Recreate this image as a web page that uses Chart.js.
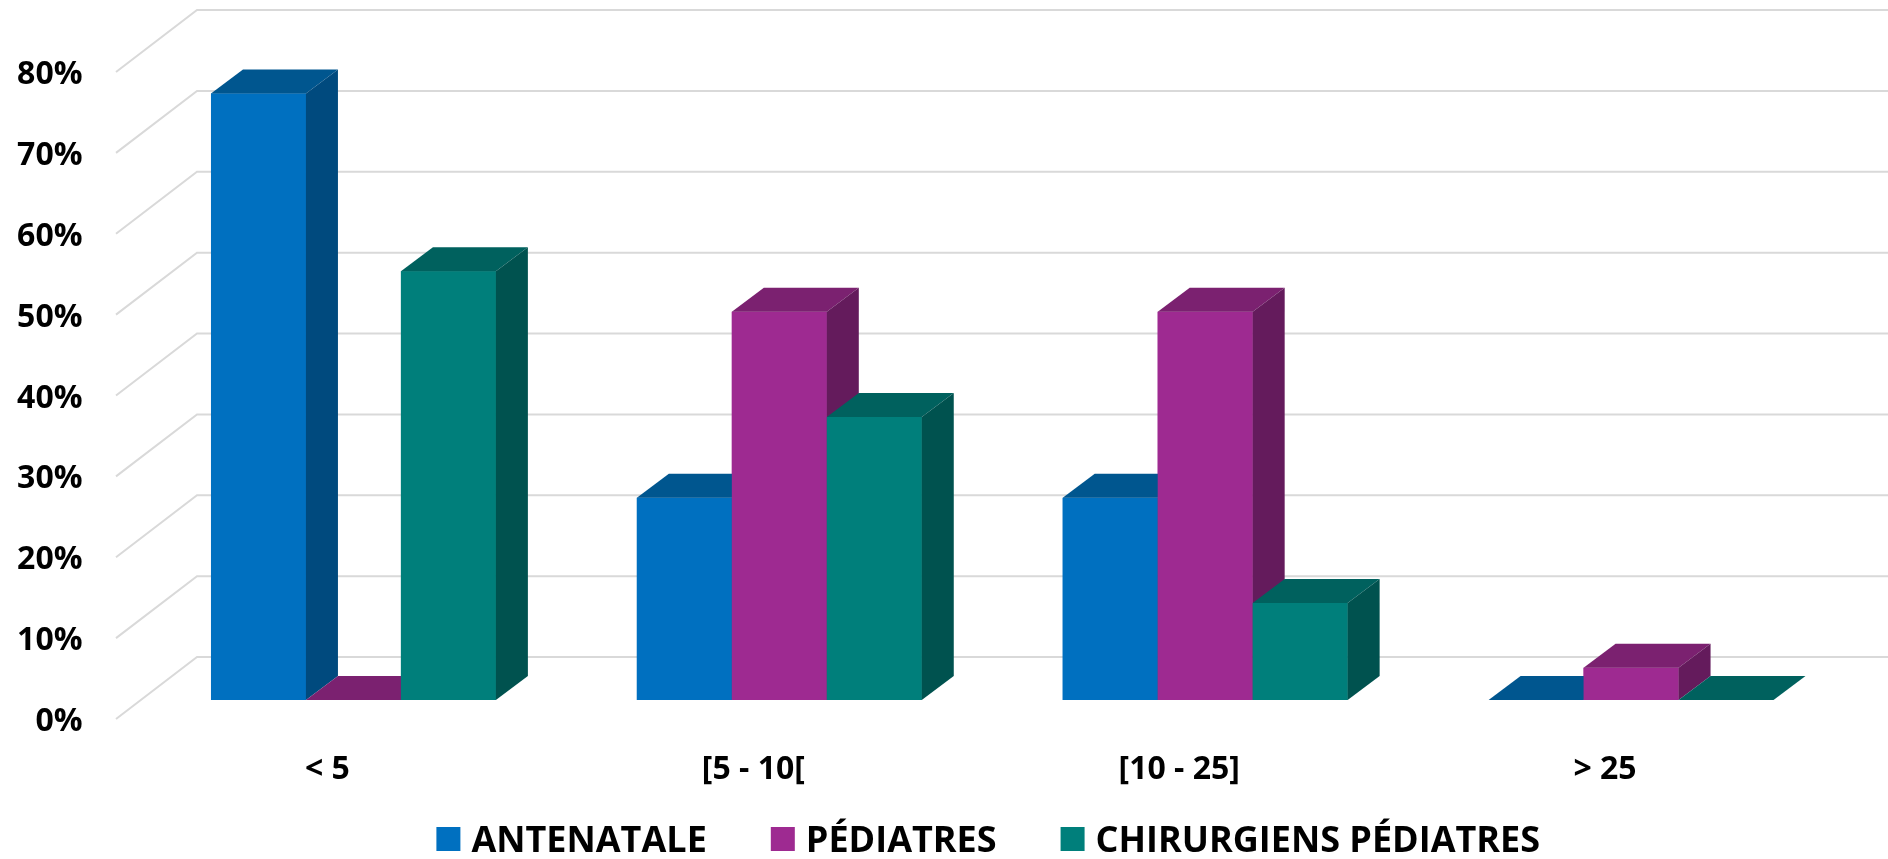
<!DOCTYPE html>
<html>
<head>
<meta charset="utf-8">
<script src="https://cdn.jsdelivr.net/npm/chart.js@4.4.1/dist/chart.umd.min.js"></script>
<style>
  html, body { margin: 0; padding: 0; background: #fff; }
  canvas { display: block; }
</style>
</head>
<body>
<canvas id="ageChart" width="1888" height="859"></canvas>
<script>
// Chart data
const categories = ['< 5', '[5 - 10[', '[10 - 25]', '> 25'];
const seriesNames = ['ANTENATALE', 'PÉDIATRES', 'CHIRURGIENS PÉDIATRES'];
const antenatale = [75, 25, 25, 0];
const pediatres = [0, 48, 48, 4];
const chirurgiens = [53, 35, 12, 0];
const yMax = 80;
const yStep = 10;

// Colours: front face, top face, side face
const frontColors = ['#0070c0', '#9e2a91', '#007f7b'];
const topColors = ['#00568f', '#7b2170', '#00615e'];
const sideColors = ['#004a7e', '#641b5c', '#00524f'];

const FONT = 'Open Sans';
const DEPTH_X = 32, DEPTH_Y = 24;          // bar depth
const WALL = { frontX: -24.5, frontY: 19, backX: 56.5, backY: -43 };

function fillPoly(ctx, pts, color) {
    ctx.fillStyle = color;
    ctx.beginPath();
    ctx.moveTo(pts[0][0], pts[0][1]);
    for (let i = 1; i < pts.length; i++) ctx.lineTo(pts[i][0], pts[i][1]);
    ctx.closePath();
    ctx.fill();
}

// Draws the back wall grid and the 3D faces of the bars
const bar3d = {
    id: 'bar3d',
    beforeDatasetsDraw(chart) {
        const { ctx, chartArea, scales: { y } } = chart;
        ctx.save();
        ctx.strokeStyle = '#d9d9d9';
        ctx.lineWidth = 2;
        y.ticks.forEach(t => {
            const py = y.getPixelForValue(t.value);
            ctx.beginPath();
            ctx.moveTo(chartArea.left + WALL.frontX, py + WALL.frontY);
            ctx.lineTo(chartArea.left + WALL.backX, py + WALL.backY);
            ctx.lineTo(chart.width, py + WALL.backY);
            ctx.stroke();
        });
        ctx.restore();
    },
    afterDatasetsDraw(chart) {
        const ctx = chart.ctx;
        const metas = chart.data.datasets.map((ds, i) => chart.getDatasetMeta(i));
        ctx.save();
        // left to right so each bar hides the side of the one before it
        categories.forEach((c, j) => {
            metas.forEach((meta, i) => {
                const bar = meta.data[j];
                const { x, y, base, width } = bar.getProps(['x', 'y', 'base', 'width'], true);
                const l = x - width / 2, r = x + width / 2;
                bar.draw(ctx);
                fillPoly(ctx, [[l, y], [r, y], [r + DEPTH_X, y - DEPTH_Y], [l + DEPTH_X, y - DEPTH_Y]], topColors[i]);
                fillPoly(ctx, [[r, y], [r + DEPTH_X, y - DEPTH_Y], [r + DEPTH_X, base - DEPTH_Y], [r, base]], sideColors[i]);
            });
        });
        ctx.restore();
    }
};

// Legend under the chart
const bottomLegend = {
    id: 'bottomLegend',
    afterDraw(chart) {
        const { ctx, chartArea } = chart;
        ctx.save();
        ctx.font = `bold 36px "${FONT}"`;
        const box = 24, gap = 11, spacing = 64;
        const items = chart.data.datasets.map(ds => ({
            text: ds.label, color: ds.backgroundColor, w: ctx.measureText(ds.label).width
        }));
        const total = items.reduce((s, it) => s + box + gap + it.w, 0) + spacing * (items.length - 1);
        let x = (chartArea.left + chartArea.right) / 2 - 4 - total / 2;
        const cy = chart.height - 20;
        items.forEach(it => {
            ctx.fillStyle = it.color;
            ctx.fillRect(x, cy - box / 2, box, box);
            ctx.fillStyle = '#000';
            ctx.textBaseline = 'alphabetic';
            ctx.fillText(it.text, x + box + gap, cy + 13);
            x += box + gap + it.w + spacing;
        });
        ctx.restore();
    }
};

const ctx = document.getElementById('ageChart').getContext('2d');
new Chart(ctx, {
    type: 'bar',
    data: {
        labels: categories,
        datasets: [
            { label: seriesNames[0], data: antenatale, backgroundColor: frontColors[0] },
            { label: seriesNames[1], data: pediatres, backgroundColor: frontColors[1] },
            { label: seriesNames[2], data: chirurgiens, backgroundColor: frontColors[2] }
        ]
    },
    options: {
        responsive: false,
        devicePixelRatio: 1,
        animation: false,
        layout: { padding: { top: 53, left: 0, right: 44, bottom: 59 } },
        datasets: { bar: { barPercentage: 1, categoryPercentage: 0.669, borderWidth: 0 } },
        plugins: { legend: { display: false }, tooltip: { enabled: false } },
        scales: {
            x: {
                grid: { display: false },
                border: { display: false },
                ticks: {
                    color: '#000',
                    font: { family: FONT, size: 32, weight: 'bold' },
                    labelOffset: -26,
                    padding: 43
                },
                afterFit: s => { s.height = 100; s.paddingLeft = 0; s.paddingRight = 0; }
            },
            y: {
                min: 0,
                max: yMax,
                grid: { display: false },
                border: { display: false },
                ticks: {
                    stepSize: yStep,
                    color: '#000',
                    font: { family: FONT, size: 32, weight: 'bold' },
                    labelOffset: 22,
                    padding: 50,
                    callback: v => v + '%'
                },
                afterFit: s => { s.width = 140.5; s.paddingTop = 0; s.paddingBottom = 0; }
            }
        }
    },
    plugins: [bar3d, bottomLegend]
});
</script>
</body>
</html>
